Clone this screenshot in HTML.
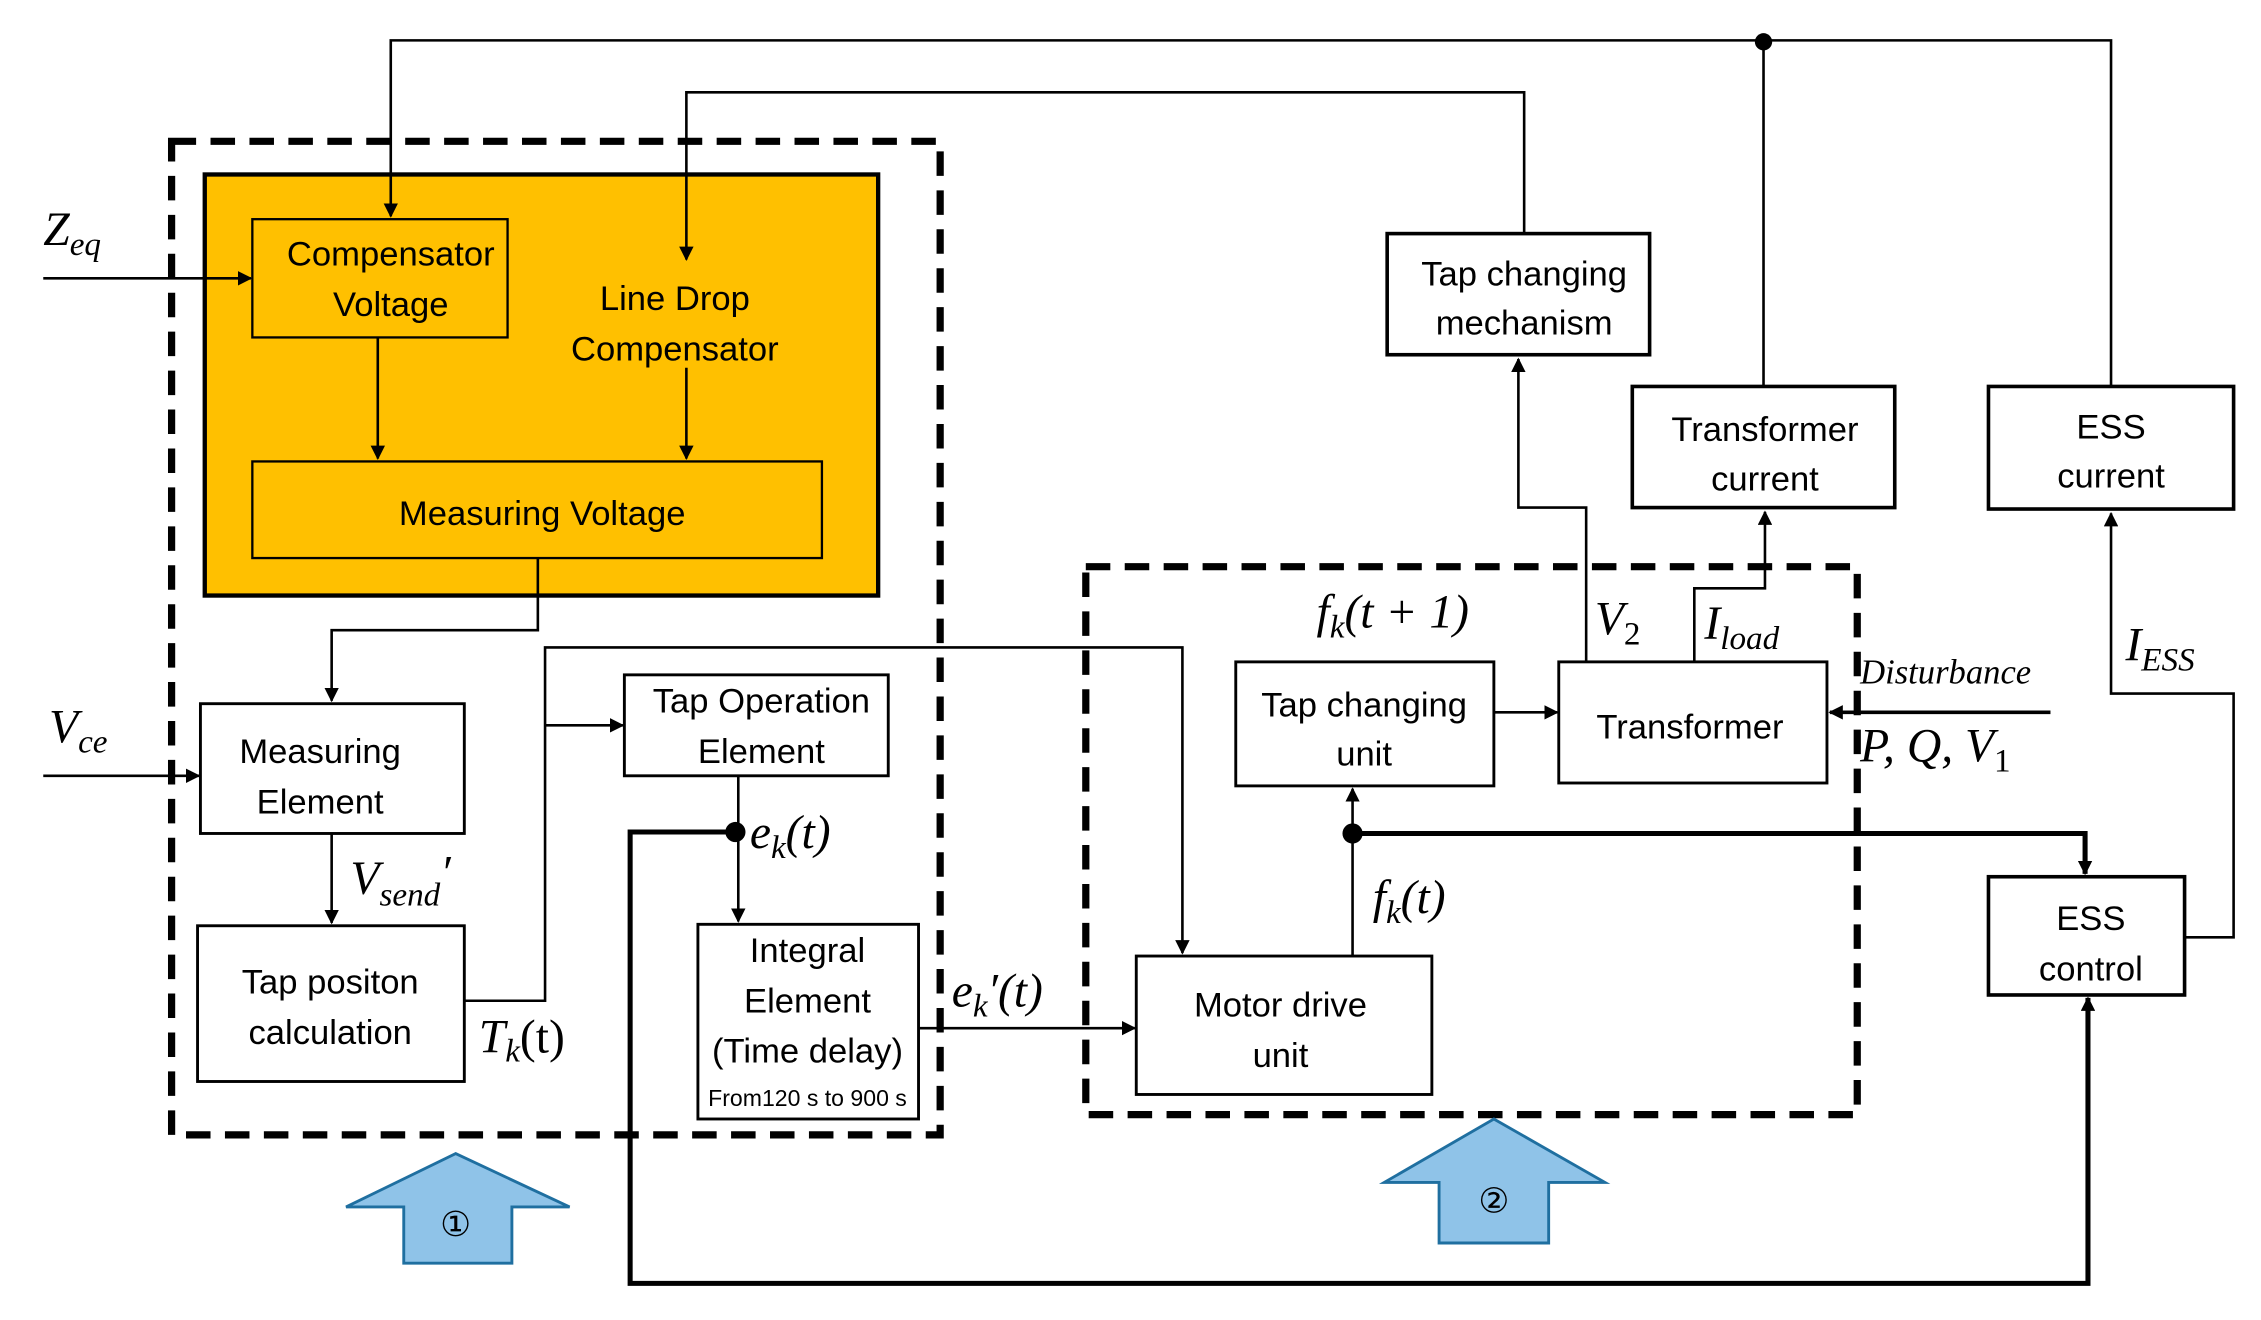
<!DOCTYPE html>
<html><head><meta charset="utf-8"><style>
html,body{margin:0;padding:0;background:#fff;}
svg{display:block;}
.t{font-family:"Liberation Sans",sans-serif;font-size:24px;text-anchor:middle;fill:#000;}
.m{font-family:"Liberation Serif",serif;font-style:italic;font-size:33px;fill:#000;}
.s{font-family:"Liberation Serif",serif;font-style:italic;font-size:23px;}
</style></head><body>
<svg width="2261" height="1320" viewBox="0 0 1568 915.4" preserveAspectRatio="none" xmlns="http://www.w3.org/2000/svg">
<defs>
<marker id="a" markerWidth="10" markerHeight="10" refX="9" refY="5" orient="auto" markerUnits="userSpaceOnUse"><path d="M0,0 L10,5 L0,10 z" fill="#000"/></marker>
</defs>
<rect x="119" y="98" width="533" height="689" fill="none" stroke="#000" stroke-width="5" stroke-dasharray="17,10"/>
<rect x="753" y="393" width="535" height="380" fill="none" stroke="#000" stroke-width="5" stroke-dasharray="17,10"/>
<rect x="142" y="121" width="467" height="292" fill="#FFC000" stroke="#000" stroke-width="3"/>
<g fill="none" stroke="#000" stroke-width="1.6">
<rect x="175" y="152" width="177" height="82"/>
<rect x="175" y="320" width="395" height="67"/>
<rect x="139" y="488" width="183" height="90" stroke-width="2"/>
<rect x="137" y="642" width="185" height="108" stroke-width="2"/>
<rect x="433" y="468" width="183" height="70" stroke-width="2"/>
<rect x="484" y="641" width="153" height="135" stroke-width="2"/>
<rect x="788" y="663" width="205" height="96" stroke-width="2"/>
<rect x="857" y="459" width="179" height="86" stroke-width="2"/>
<rect x="1081" y="459" width="186" height="84" stroke-width="2"/>
<rect x="962" y="162" width="182" height="84" stroke-width="2.5"/>
<rect x="1132" y="268" width="182" height="84" stroke-width="2.5"/>
<rect x="1379" y="268" width="170" height="85" stroke-width="2.5"/>
<rect x="1379" y="608" width="136" height="82" stroke-width="2.5"/>
</g>
<g fill="none" stroke="#000" stroke-width="1.8">
<path d="M1464,268 V28 H271 V150" marker-end="url(#a)"/>
<path d="M1223,268 V28"/>
<path d="M1057,162 V64 H476 V180" marker-end="url(#a)"/>
<path d="M30,193 H174" marker-end="url(#a)"/>
<path d="M262,234 V318" marker-end="url(#a)"/>
<path d="M476,255 V318" marker-end="url(#a)"/>
<path d="M373,387 V437 H230 V486" marker-end="url(#a)"/>
<path d="M30,538 H138" marker-end="url(#a)"/>
<path d="M230,578 V640" marker-end="url(#a)"/>
<path d="M322,694 H378 V449 H820 V661" marker-end="url(#a)"/>
<path d="M378,503 H432" marker-end="url(#a)"/>
<path d="M512,538 V639" marker-end="url(#a)"/>
<path d="M637,713 H787" marker-end="url(#a)"/>
<path d="M938,663 V547" marker-end="url(#a)"/>
<path d="M1036,494 H1080" marker-end="url(#a)"/>
<path d="M1100,459 V352 H1053 V249" marker-end="url(#a)"/>
<path d="M1175,459 V408 H1224 V355" marker-end="url(#a)"/>
<path d="M1422,494 H1269" marker-end="url(#a)" stroke-width="2.5"/>
<path d="M1515,650 H1549 V481 H1464 V356" marker-end="url(#a)"/>
</g>
<g fill="none" stroke="#000" stroke-width="3.5">
<path d="M510,577 H437 V890 H1448 V692" marker-end="url(#a)"/>
<path d="M938,578 H1446 V606" marker-end="url(#a)"/>
</g>
<circle cx="1223" cy="29" r="6" fill="#000"/>
<circle cx="510" cy="577" r="7" fill="#000"/>
<circle cx="938" cy="578" r="7" fill="#000"/>
<polygon points="316,800 395,837 355,837 355,876 280,876 280,837 240,837" fill="#8FC3E8" stroke="#1F6FA0" stroke-width="2"/>
<polygon points="1036,776 1113,820 1074,820 1074,862 998,862 998,820 960,820" fill="#8FC3E8" stroke="#1F6FA0" stroke-width="2"/>
<text x="316" y="857" class="t" font-size="36" style="font-family:'DejaVu Sans',sans-serif">①</text>
<text x="1036" y="841" class="t" font-size="36" style="font-family:'DejaVu Sans',sans-serif">②</text>
<g class="t">
<text x="271" y="184">Compensator</text><text x="271" y="219">Voltage</text>
<text x="468" y="215">Line Drop</text><text x="468" y="250">Compensator</text>
<text x="376" y="364">Measuring Voltage</text>
<text x="222" y="529">Measuring</text><text x="222" y="564">Element</text>
<text x="229" y="689">Tap positon</text><text x="229" y="724">calculation</text>
<text x="528" y="494">Tap Operation</text><text x="528" y="529">Element</text>
<text x="560" y="667">Integral</text><text x="560" y="702">Element</text><text x="560" y="737">(Time delay)</text>
<text x="560" y="767" font-size="16">From120 s to 900 s</text>
<text x="888" y="705">Motor drive</text><text x="888" y="740">unit</text>
<text x="946" y="497">Tap changing</text><text x="946" y="531">unit</text>
<text x="1172" y="512">Transformer</text>
<text x="1057" y="198">Tap changing</text><text x="1057" y="232">mechanism</text>
<text x="1224" y="306">Transformer</text><text x="1224" y="340">current</text>
<text x="1464" y="304">ESS</text><text x="1464" y="338">current</text>
<text x="1450" y="645">ESS</text><text x="1450" y="680">control</text>
</g>
<g class="m">
<text x="30" y="170">Z<tspan class="s" dy="7">eq</tspan></text>
<text x="34" y="515">V<tspan class="s" dy="7">ce</tspan></text>
<text x="243" y="620">V<tspan class="s" dy="8">send</tspan><tspan dy="-12">′</tspan></text>
<text x="332" y="730">T<tspan class="s" dy="6">k</tspan><tspan dy="-6" style="font-style:normal">(t)</tspan></text>
<text x="520" y="588">e<tspan class="s" dy="7">k</tspan><tspan dy="-7">(t)</tspan></text>
<text x="660" y="698">e<tspan class="s" dy="7">k</tspan><tspan dy="-7">′(t)</tspan></text>
<text x="952" y="633">f<tspan class="s" dy="7">k</tspan><tspan dy="-7">(t)</tspan></text>
<text x="913" y="435">f<tspan class="s" dy="7">k</tspan><tspan dy="-7">(t + 1)</tspan></text>
<text x="1106" y="440">V<tspan class="s" dy="7" style="font-style:normal">2</tspan></text>
<text x="1182" y="443">I<tspan class="s" dy="7">load</tspan></text>
<text x="1290" y="474" font-size="24">Disturbance</text>
<text x="1290" y="528">P, Q, V<tspan class="s" dy="7" style="font-style:normal">1</tspan></text>
<text x="1474" y="458">I<tspan class="s" dy="7">ESS</tspan></text>
</g>
</svg>
</body></html>
